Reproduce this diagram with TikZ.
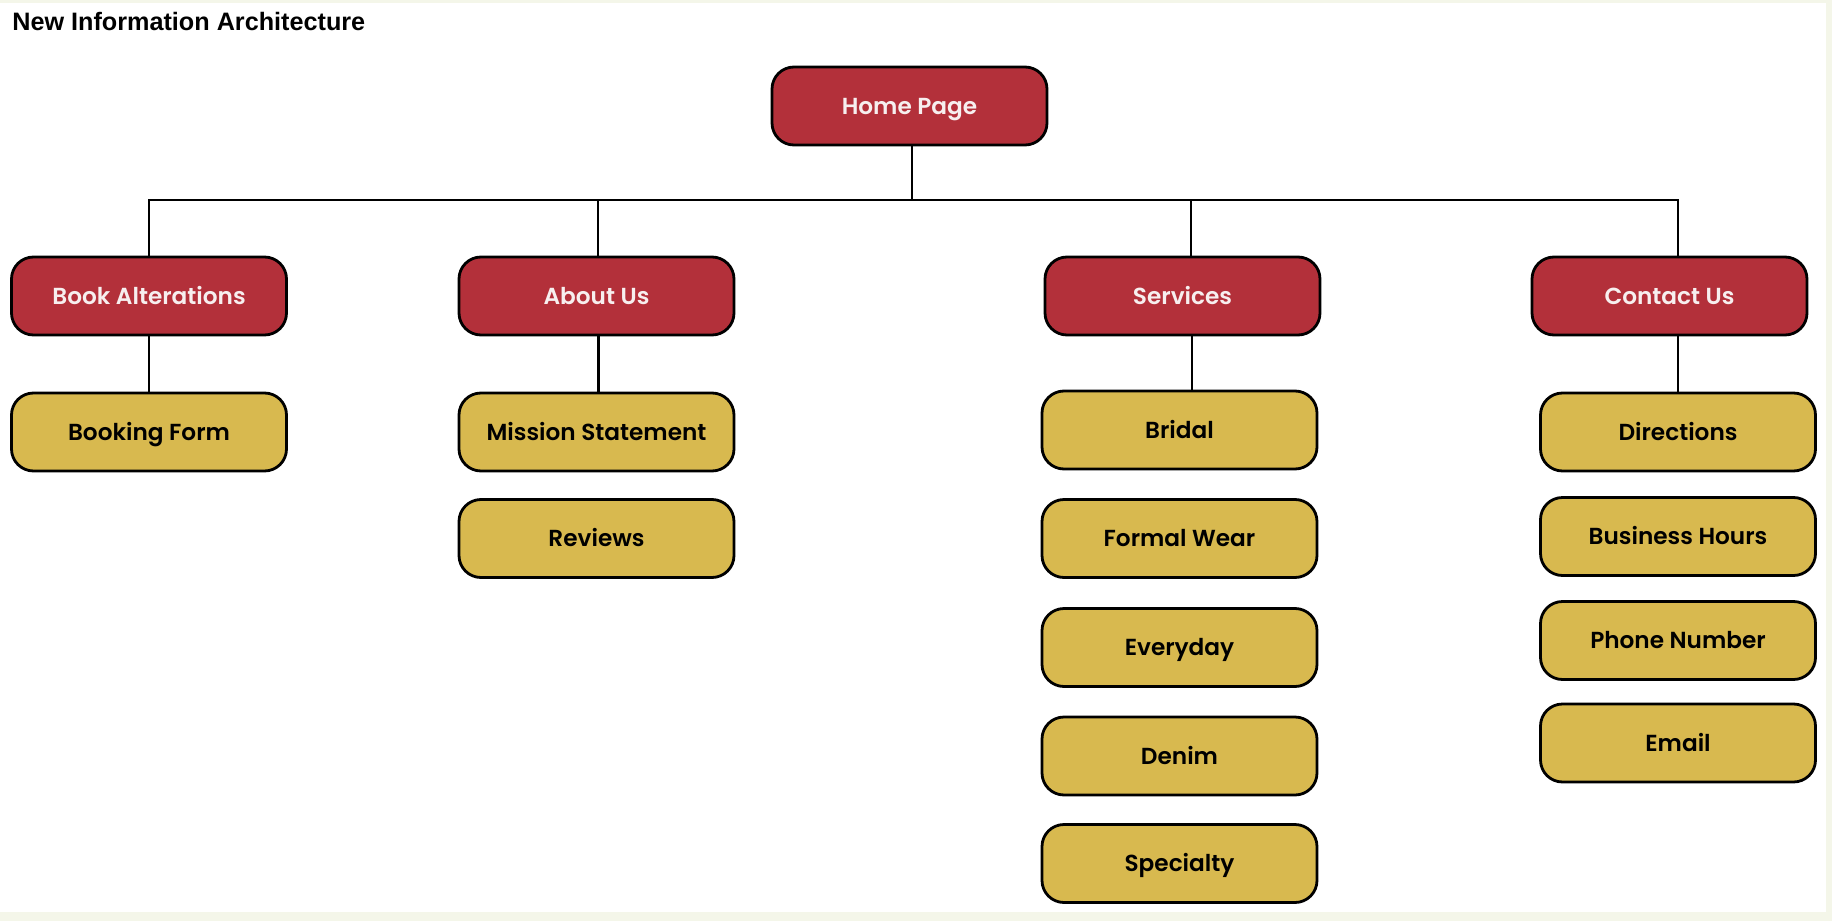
\documentclass[tikz,border=0pt]{standalone}
\usepackage{fontspec}
\setmainfont{Liberation Sans}
\newfontfamily\boxfont{Poppins SemiBold}
\usepackage{tikz}
\definecolor{pagebg}{HTML}{F4F6E9}
\definecolor{mainred}{HTML}{B3303A}
\definecolor{subgold}{HTML}{D8B94F}
\definecolor{redtext}{HTML}{F7EFEF}
\tikzset{
  page/.style={draw=black, line width=1.4pt, rounded corners=11pt,
    minimum width=137.5pt, minimum height=39pt, inner sep=0pt,
    text height=8.1pt, text depth=0pt,
    font=\boxfont\fontsize{11.6pt}{14pt}\selectfont},
  section/.style={page, fill=mainred, text=redtext},
  subpage/.style={page, fill=subgold, text=black},
  link/.style={draw=black, line width=1.25pt}
}
\begin{document}
\begin{tikzpicture}[x=0.5pt, y=-0.5pt]
  % Page background
  \useasboundingbox (0,0) rectangle (1832,921);
  \fill[pagebg] (0,0) rectangle (1832,921);
  \fill[white] (0,3) rectangle (1826,912);
  \node[anchor=base west, inner sep=0pt, font=\bfseries\fontsize{12.6pt}{15pt}\selectfont] (title) at (12,31) {New Information Architecture};

  % Top level
  \node[section] (home) at (909.5,106) {Home Page};
  \node[section] (book) at (149,296) {Book Alterations};
  \node[section] (about) at (596.5,296) {About Us};
  \node[section] (serv) at (1182.5,296) {Services};
  \node[section] (cont) at (1669.5,296) {Contact Us};

  % Second level
  \node[subpage] (booking) at (149,432) {Booking Form};
  \node[subpage] (mission) at (596.5,432) {Mission Statement};
  \node[subpage] (reviews) at (596.5,538.5) {Reviews};
  \node[subpage] (bridal) at (1179.5,430) {Bridal};
  \node[subpage] (formal) at (1179.5,538.5) {Formal Wear};
  \node[subpage] (everyday) at (1179.5,647.5) {Everyday};
  \node[subpage] (denim) at (1179.5,756) {Denim};
  \node[subpage] (special) at (1179.5,863.5) {Specialty};
  \node[subpage] (direct) at (1678,432) {Directions};
  \node[subpage] (hours) at (1678,536.5) {Business Hours};
  \node[subpage] (phone) at (1678,640.5) {Phone Number};
  \node[subpage] (email) at (1678,743) {Email};

  % Connectors
  \coordinate (bus) at (912,200);
  \draw[link] ([xshift=1.25pt]home.south) -- (bus);
  \draw[link] (bus) -| (book.north);
  \draw[link] (bus) -| ([xshift=0.75pt]about.north);
  \draw[link] (bus) -| ([xshift=4.25pt]serv.north);
  \draw[link] (bus) -| (direct.north |- cont.north);
  \draw[link] (book.south) -- (booking.north);
  \draw[link] ([xshift=1pt]about.south) -- ([xshift=1pt]mission.north);
  \draw[link] ([xshift=4.75pt]serv.south) -- ([xshift=6.25pt]bridal.north);
  \draw[link] (cont.south -| direct.north) -- (direct.north);
\end{tikzpicture}
\end{document}
